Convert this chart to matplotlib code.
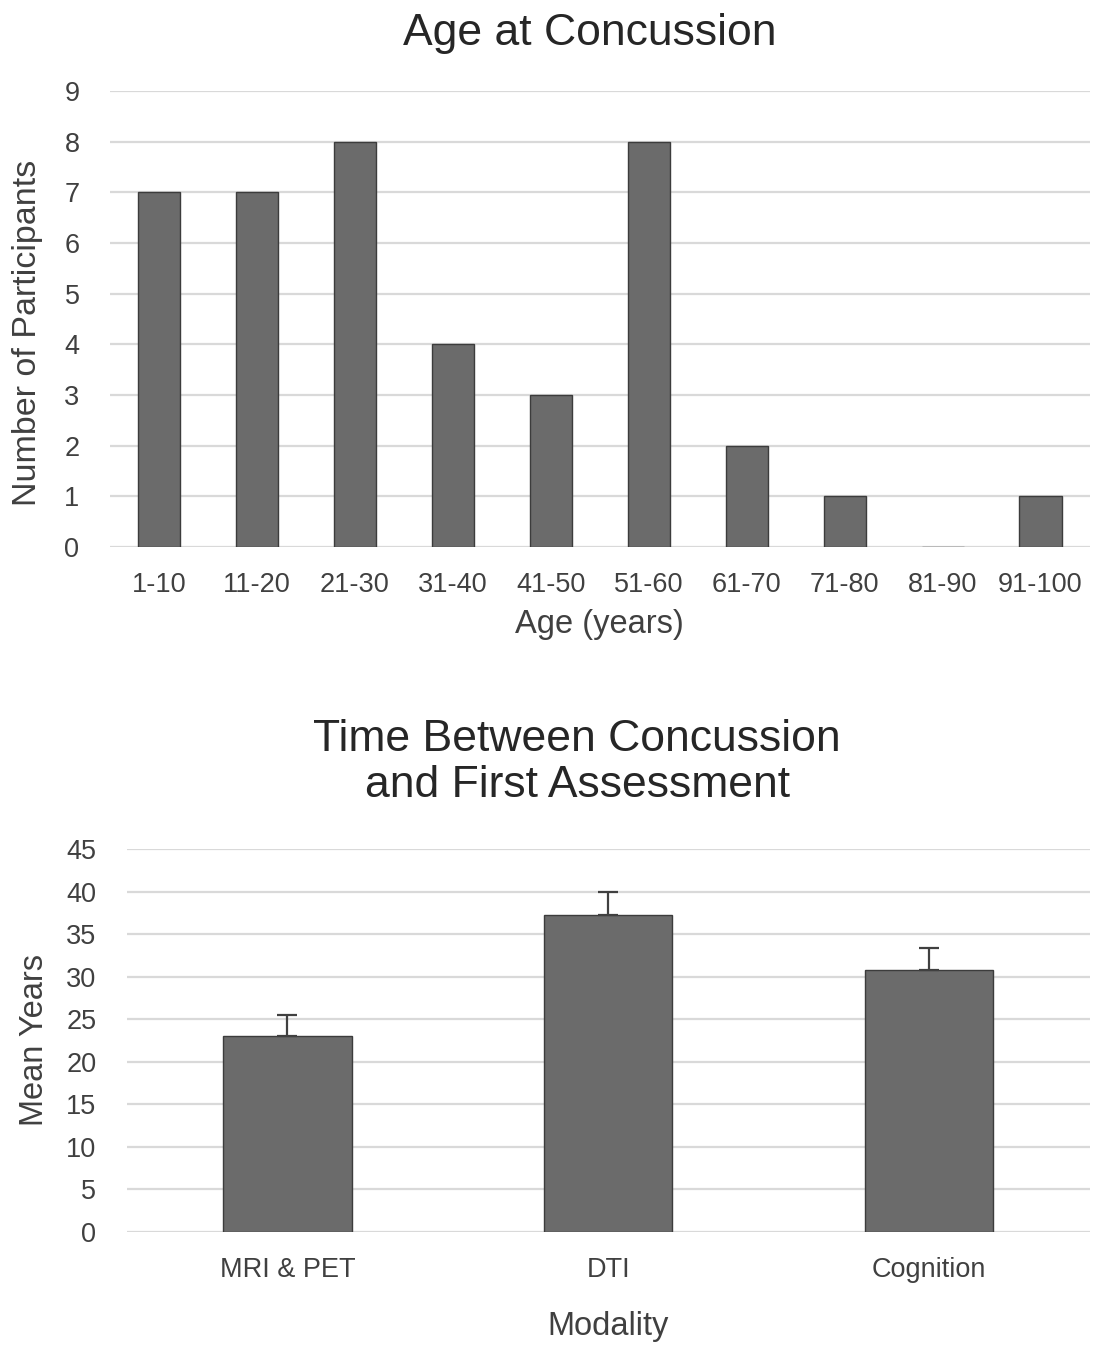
import matplotlib.pyplot as plt
import numpy as np

plt.rcParams['font.family'] = ['Liberation Sans', 'DejaVu Sans']

age_groups = ['1-10', '11-20', '21-30', '31-40', '41-50', '51-60',
              '61-70', '71-80', '81-90', '91-100']
participants = [7, 7, 8, 4, 3, 8, 2, 1, 0, 1]

modalities = ['MRI & PET', 'DTI', 'Cognition']
mean_years = [23.0, 37.2, 30.8]
err_up = [2.5, 2.8, 2.6]

bar_c = '#6b6b6b'
edge_c = '#3c3c3c'
grid_c = '#d9d9d9'
txt_c = '#404040'


def style(ax):
    for s in ax.spines.values():
        s.set_visible(False)
    ax.tick_params(length=0, colors=txt_c, labelsize=19.5)
    ax.yaxis.grid(True, color=grid_c, lw=1.6)
    ax.set_axisbelow(True)


fig = plt.figure(figsize=(10.95, 13.45), dpi=100)

# top: age at concussion
ax1 = fig.add_axes([0.1005, 0.5933, 0.8945, 0.339])
x1 = np.arange(len(age_groups))
ax1.bar(x1, participants, width=0.43, color=bar_c, edgecolor=edge_c, lw=1.0)
ax1.set_xlim(-0.5, len(age_groups) - 0.5)
ax1.set_ylim(0, 9)
ax1.set_yticks(range(0, 10))
ax1.set_xticks(x1)
ax1.set_xticklabels(age_groups)
style(ax1)
ax1.tick_params(axis='x', pad=18)
ax1.tick_params(axis='y', pad=22)
ax1.set_xlabel('Age (years)', fontsize=23.5, color=txt_c, labelpad=8)
ax1.set_ylabel('Number of Participants', fontsize=24.5, color=txt_c)
ax1.yaxis.set_label_coords(-0.068, 0.47)
fig.text(0.539, 0.975, 'Age at Concussion', fontsize=32, color='#262626',
         ha='center', va='center')

# bottom: time between concussion and first assessment
ax2 = fig.add_axes([0.116, 0.084, 0.879, 0.2848])
x2 = np.arange(len(modalities))
ax2.bar(x2, mean_years, width=0.4, color=bar_c, edgecolor=edge_c, lw=1.0,
        yerr=[np.zeros(len(err_up)), err_up], capsize=7,
        error_kw=dict(elinewidth=1.6, capthick=1.6, ecolor='#404040'))
ax2.set_xlim(-0.5, len(modalities) - 0.5)
ax2.set_ylim(0, 45)
ax2.set_yticks(range(0, 50, 5))
ax2.set_xticks(x2)
ax2.set_xticklabels(modalities)
style(ax2)
ax2.tick_params(axis='x', pad=18)
ax2.tick_params(axis='y', pad=22)
ax2.set_xlabel('Modality', fontsize=23.5, color=txt_c, labelpad=20)
ax2.set_ylabel('Mean Years', fontsize=23.5, color=txt_c, labelpad=12)
fig.text(0.527, 0.433, 'Time Between Concussion\nand First Assessment',
         fontsize=32, color='#262626', ha='center', va='center',
         linespacing=1.15)

fig.savefig('out.png', dpi=100)
